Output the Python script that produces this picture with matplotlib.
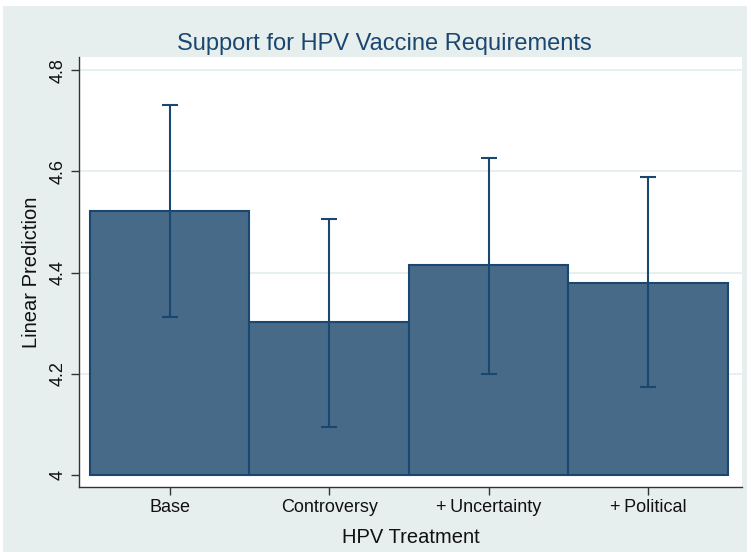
import numpy as np
import matplotlib.pyplot as plt
from matplotlib.patches import Rectangle

treatments = ['Base', 'Controversy', '+\u2009Uncertainty', '+\u2009Political']
prediction = [4.521, 4.302, 4.415, 4.379]
ci_upper = [4.732, 4.506, 4.627, 4.588]
ci_lower = [4.312, 4.095, 4.200, 4.173]
y_ticks = [4.0, 4.2, 4.4, 4.6, 4.8]
y_tick_labels = ['4', '4.2', '4.4', '4.6', '4.8']

bg = '#E7EFEE'
navy = '#1A476F'
fill = '#476A89'

plt.rcParams['font.family'] = ['Liberation Sans', 'DejaVu Sans']

fig = plt.figure(figsize=(7.51, 5.52), dpi=100, facecolor='white')
# graph region sits inside a thin white frame
fig.patches.append(Rectangle((3 / 751, 0), 744 / 751, 546 / 552,
                             transform=fig.transFigure, facecolor=bg,
                             edgecolor='none', zorder=-10))

ax = fig.add_axes([79 / 751, 65 / 552, 663 / 751, 430 / 552])
ax.set_facecolor('white')

x = np.arange(1, len(treatments) + 1)
pred = np.array(prediction)
ax.bar(x, pred - 4.0, bottom=4.0, width=1.0, color=fill, edgecolor=navy,
       linewidth=1.5, zorder=2)
ax.errorbar(x, pred, yerr=[pred - np.array(ci_lower), np.array(ci_upper) - pred],
            fmt='none', ecolor=navy, elinewidth=1.5, capsize=6, capthick=1.5,
            zorder=3)

ax.set_xlim(0.431, 4.588)
ax.set_ylim(3.976, 4.826)
ax.set_xticks(x)
ax.set_xticklabels(treatments, fontsize=13, color='#111111')
ax.set_yticks(y_ticks)
ax.set_yticklabels(y_tick_labels, fontsize=13, rotation=90, va='center',
                   color='#111111')
for yv in y_ticks[1:]:
    ax.axhline(yv, color='#E3EDEF', linewidth=1.2, zorder=1)

for side in ['top', 'right']:
    ax.spines[side].set_visible(False)
for side in ['left', 'bottom']:
    ax.spines[side].set_color('#333333')
    ax.spines[side].set_linewidth(1.0)
ax.tick_params(axis='both', length=6, width=1.0, color='#333333', pad=3)

ax.set_xlabel('HPV Treatment', fontsize=14.5, color='#111111', labelpad=8)
ax.set_ylabel('Linear Prediction', fontsize=14.5, color='#111111', labelpad=6)
fig.text(384 / 751, 1 - 50 / 552, 'Support for HPV Vaccine Requirements',
         ha='center', va='baseline', fontsize=17, color=navy)

fig.savefig('out.png', dpi=100, facecolor='white')
